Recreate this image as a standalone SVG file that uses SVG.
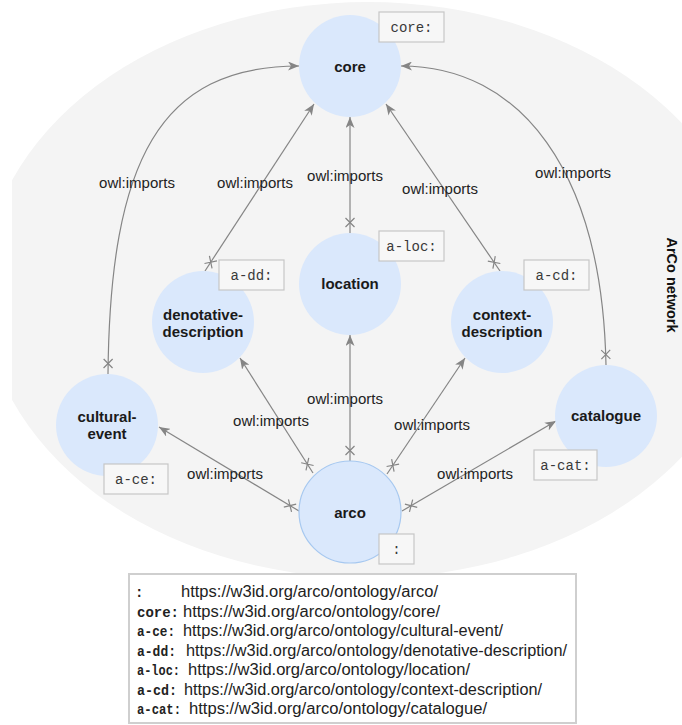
<svg xmlns="http://www.w3.org/2000/svg" width="682" height="725" viewBox="0 0 682 725">
  <style>
    .node { fill: #dae8fc; }
    .nlabel { font-family: "Liberation Sans", Arial, sans-serif; font-size: 15px; font-weight: bold; fill: #1a1a1a; text-anchor: middle; }
    .edge { fill: none; stroke: #858585; stroke-width: 1.2; marker-start: url(#cross); marker-end: url(#arrow); }
    .elabel { font-family: "Liberation Sans", Arial, sans-serif; font-size: 15px; fill: #222; text-anchor: middle; }
    .pbox { fill: #f7f7f7; stroke: #c6c6c6; stroke-width: 1.2; }
    .ptext { font-family: "Liberation Mono", "Courier New", monospace; font-size: 14px; fill: #3a3a3a; text-anchor: middle; }
    .lpre { font-family: "Liberation Mono", "Courier New", monospace; font-size: 14px; font-weight: bold; fill: #222; }
    .lurl { font-family: "Liberation Sans", Arial, sans-serif; font-size: 16px; fill: #222; }
  </style>
  <defs>
    <clipPath id="clipbg"><rect x="12" y="0" width="700" height="725"/></clipPath>
    <marker id="arrow" markerUnits="userSpaceOnUse" viewBox="0 0 11 9" refX="11" refY="4.5" markerWidth="11" markerHeight="9" orient="auto">
      <path d="M0,0 L11,4.5 L0,9 L3,4.5 Z" fill="#858585"/>
    </marker>
    <marker id="cross" markerUnits="userSpaceOnUse" viewBox="0 -6 20 12" refX="0" refY="0" markerWidth="20" markerHeight="12" orient="auto">
      <path d="M6,-4.5 L15,4.5 M6,4.5 L15,-4.5" stroke="#858585" stroke-width="1.2" fill="none"/>
    </marker>
  </defs>

  <g id="arco-network">
    <ellipse cx="368" cy="290" rx="385" ry="288" fill="#f4f4f4" clip-path="url(#clipbg)"/>
    <text transform="translate(667,285) rotate(90)" font-family="Liberation Sans, Arial, sans-serif" font-size="14.5" font-weight="bold" fill="#111" text-anchor="middle">ArCo network</text>
  </g>

  <g id="connectors">
    <path class="edge" d="M350,233 L350,117"/>
    <path class="edge" d="M205,271 L314,104"/>
    <path class="edge" d="M500,271 L386,104"/>
    <path class="edge" d="M108,374 C110,160 160,66 299,66"/>
    <path class="edge" d="M606,365 C602,170 520,66 401,66"/>
    <path class="edge" d="M299,511 L159,427"/>
    <path class="edge" d="M313,473 L240,358"/>
    <path class="edge" d="M350,461 L350,335"/>
    <path class="edge" d="M387,474 L465,358"/>
    <path class="edge" d="M402,511 L556,421"/>
    <text class="elabel" x="137" y="188">owl:imports</text>
    <text class="elabel" x="255" y="188">owl:imports</text>
    <text class="elabel" x="345" y="181">owl:imports</text>
    <text class="elabel" x="440" y="194">owl:imports</text>
    <text class="elabel" x="573" y="178">owl:imports</text>
    <text class="elabel" x="345" y="404">owl:imports</text>
    <text class="elabel" x="271" y="426">owl:imports</text>
    <text class="elabel" x="225" y="479">owl:imports</text>
    <text class="elabel" x="432" y="430">owl:imports</text>
    <text class="elabel" x="475" y="479">owl:imports</text>
  </g>

  <g id="core">
    <circle class="node" cx="350" cy="66" r="51"/>
    <text class="nlabel" x="350" y="71.5">core</text>
    <rect class="pbox" x="379" y="12" width="65" height="30"/>
    <text class="ptext" x="411.5" y="31.5">core:</text>
  </g>

  <g id="location">
    <circle class="node" cx="350" cy="284" r="51"/>
    <text class="nlabel" x="350" y="289">location</text>
    <rect class="pbox" x="379" y="231" width="65" height="30"/>
    <text class="ptext" x="411.5" y="250.5">a-loc:</text>
  </g>

  <g id="denotative-description">
    <circle class="node" cx="203" cy="322" r="51"/>
    <text class="nlabel" x="203" y="319.5">denotative-</text>
    <text class="nlabel" x="203" y="336.5">description</text>
    <rect class="pbox" x="219" y="260" width="65" height="30"/>
    <text class="ptext" x="251.5" y="279.5">a-dd:</text>
  </g>

  <g id="context-description">
    <circle class="node" cx="502" cy="322" r="51"/>
    <text class="nlabel" x="502" y="319.5">context-</text>
    <text class="nlabel" x="502" y="336.5">description</text>
    <rect class="pbox" x="524" y="260" width="65" height="30"/>
    <text class="ptext" x="556.5" y="279.5">a-cd:</text>
  </g>

  <g id="cultural-event">
    <circle class="node" cx="107" cy="425" r="51"/>
    <text class="nlabel" x="107" y="422">cultural-</text>
    <text class="nlabel" x="107" y="439">event</text>
    <rect class="pbox" x="104" y="464" width="64" height="30"/>
    <text class="ptext" x="136" y="483.5">a-ce:</text>
  </g>

  <g id="catalogue">
    <circle class="node" cx="606" cy="416" r="51"/>
    <text class="nlabel" x="606" y="421">catalogue</text>
    <rect class="pbox" x="534" y="450" width="63" height="30"/>
    <text class="ptext" x="565.5" y="469.5">a-cat:</text>
  </g>

  <g id="arco">
    <circle class="node" cx="350" cy="512" r="51" stroke="#a6c8f0" stroke-width="1.2"/>
    <text class="nlabel" x="350" y="518">arco</text>
    <rect class="pbox" x="379" y="534" width="35" height="30"/>
    <text class="ptext" x="396.5" y="553.5">:</text>
  </g>

  <g id="legend">
    <rect x="129" y="574" width="447" height="149" fill="#ffffff" stroke="#cfcfcf" stroke-width="2"/>
    <text class="lpre" x="135" y="597">:</text>
    <text class="lurl" x="181" y="597" textLength="257" lengthAdjust="spacingAndGlyphs">https://w3id.org/arco/ontology/arco/</text>
    <text class="lpre" x="137" y="616.5" textLength="42" lengthAdjust="spacingAndGlyphs">core:</text>
    <text class="lurl" x="183" y="616.5" textLength="257" lengthAdjust="spacingAndGlyphs">https://w3id.org/arco/ontology/core/</text>
    <text class="lpre" x="137" y="636" textLength="38" lengthAdjust="spacingAndGlyphs">a-ce:</text>
    <text class="lurl" x="183" y="636" textLength="320" lengthAdjust="spacingAndGlyphs">https://w3id.org/arco/ontology/cultural-event/</text>
    <text class="lpre" x="137" y="655.5" textLength="39" lengthAdjust="spacingAndGlyphs">a-dd:</text>
    <text class="lurl" x="186" y="655.5" textLength="381" lengthAdjust="spacingAndGlyphs">https://w3id.org/arco/ontology/denotative-description/</text>
    <text class="lpre" x="137" y="675" textLength="43" lengthAdjust="spacingAndGlyphs">a-loc:</text>
    <text class="lurl" x="188" y="675" textLength="282" lengthAdjust="spacingAndGlyphs">https://w3id.org/arco/ontology/location/</text>
    <text class="lpre" x="137" y="694.5" textLength="40" lengthAdjust="spacingAndGlyphs">a-cd:</text>
    <text class="lurl" x="184" y="694.5" textLength="358" lengthAdjust="spacingAndGlyphs">https://w3id.org/arco/ontology/context-description/</text>
    <text class="lpre" x="137" y="714" textLength="44" lengthAdjust="spacingAndGlyphs">a-cat:</text>
    <text class="lurl" x="189" y="714" textLength="298" lengthAdjust="spacingAndGlyphs">https://w3id.org/arco/ontology/catalogue/</text>
  </g>
</svg>
